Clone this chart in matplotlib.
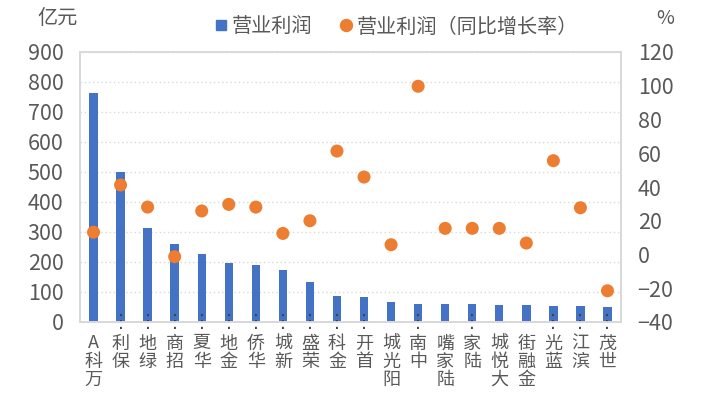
import matplotlib as mpl
import matplotlib.pyplot as plt
from matplotlib.lines import Line2D
from matplotlib.transforms import blended_transform_factory

mpl.use("agg", force=True)
plt.rcParams['font.family'] = ['Noto Sans CJK SC', 'DejaVu Sans']

# data
companies = ['万科A', '保利…', '绿地…', '招商…', '华夏…', '金地…', '华侨…', '新城…',
             '荣盛…', '金科…', '首开…', '阳光城', '中南…', '陆家嘴', '陆家…', '大悦城',
             '金融街', '蓝光…', '滨江…', '世茂…']
profit = [762, 501, 314, 261, 226, 197, 190, 173, 132, 87, 83, 68, 61, 61, 61, 58,
          58, 55, 55, 51]
growth = [13.2, 41.2, 28.1, -1.3, 25.8, 29.7, 28.1, 12.5, 20.0, 61.3, 45.9, 5.8,
          99.7, 15.5, 15.5, 15.5, 6.8, 55.6, 27.7, -21.5]
left_ticks = list(range(0, 901, 100))
right_ticks = list(range(-40, 121, 20))

blue = '#4472C4'
orange = '#ED7D31'
grey_text = '#595959'
grey_line = '#D9D9D9'

fig = plt.figure(figsize=(7.09, 4.07), dpi=100)
ax = fig.add_axes([80 / 709, 1 - 322 / 407, 541 / 709, 270 / 407])
ax2 = ax.twinx()

x = list(range(len(companies)))
ax.bar(x, profit, width=0.31, color=blue, zorder=2)
ax2.scatter(x, growth, s=88, color=orange, edgecolors='none', zorder=3)

ax.set_xlim(-0.5, len(companies) - 0.5)
ax.set_ylim(0, 900)
ax.set_yticks(left_ticks)
ax2.set_ylim(-40, 120)
ax2.set_yticks(right_ticks)

ax.set_axisbelow(True)
ax.yaxis.grid(True, color=grey_line, linestyle=(0, (1, 2)), linewidth=1)

for a in (ax, ax2):
    for s in a.spines.values():
        s.set_color(grey_line)
        s.set_linewidth(1.3)

ax.tick_params(axis='y', length=0, pad=12, labelsize=15.5, labelcolor=grey_text)
ax2.tick_params(axis='y', length=0, pad=12, labelsize=15.5, labelcolor=grey_text)

# stacked vertical category labels (characters upright, read bottom to top)
ax.set_xticks(x)
stacked = []
for name in companies:
    chars = list(name.rstrip('…'))
    stacked.append('\n'.join(reversed(chars)))
ax.set_xticklabels(stacked, fontsize=13, color=grey_text, linespacing=1.0)
ax.tick_params(axis='x', length=0, pad=9)

trans = blended_transform_factory(ax.transData, ax.transAxes)
for i, name in enumerate(companies):
    if name.endswith('…'):
        ax.text(i, 0, '⋮', transform=trans, ha='center', va='center',
                fontsize=13, color='#404040', family='DejaVu Sans', zorder=4)

# unit labels
fig.text(37 / 709, 1 - 18 / 407, '亿元', fontsize=14.5, color=grey_text,
         ha='left', va='center')
fig.text(665 / 709, 1 - 19 / 407, '%', fontsize=14, color=grey_text,
         ha='center', va='center')

handles = [Line2D([], [], marker='s', linestyle='none', color=blue, markersize=7),
           Line2D([], [], marker='o', linestyle='none', color=orange, markersize=8.6)]
fig.legend(handles, ['营业利润', '营业利润（同比增长率）'], ncol=2, frameon=False,
           loc='center', bbox_to_anchor=(396 / 709, 1 - 27 / 407),
           fontsize=14.5, labelcolor=grey_text, handlelength=0.7,
           handletextpad=0.2, columnspacing=1.3)

plt.savefig('out.png', dpi=100)
plt.close()
